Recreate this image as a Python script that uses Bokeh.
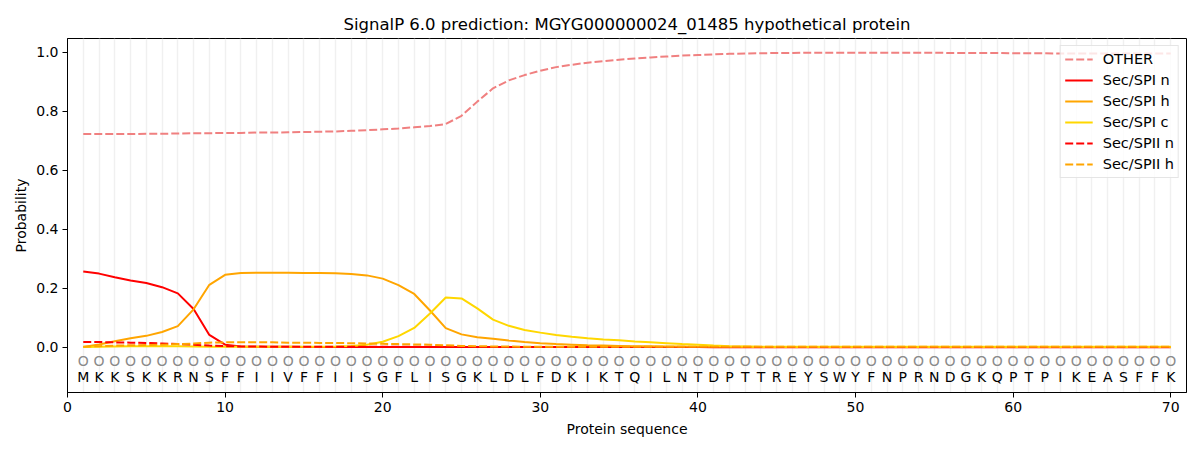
from bokeh.plotting import figure
from bokeh.models import Grid, FixedTicker, Legend, LegendItem, ColumnDataSource, NumeralTickFormatter, Range1d
from bokeh.core.properties import value
from bokeh.embed import file_html
from bokeh.resources import INLINE

sequence = list("MKKSKKRNSFFIIVFFIISGFLISGKLDLFDKIKTQILNTDPTTREYSWYFNPRNDGKQPTPIKEASFFK")
positions = list(range(1, len(sequence) + 1))

other = [0.723, 0.723, 0.723, 0.723, 0.724, 0.724, 0.725, 0.726, 0.726, 0.727,
         0.727, 0.728, 0.728, 0.729, 0.730, 0.731, 0.732, 0.734, 0.736, 0.739,
         0.742, 0.746, 0.750, 0.757, 0.785, 0.833, 0.878, 0.905, 0.923, 0.938,
         0.950, 0.958, 0.965, 0.970, 0.975, 0.979, 0.983, 0.986, 0.989, 0.991,
         0.993, 0.995, 0.996, 0.997, 0.998, 0.998, 0.999, 0.999, 0.999, 0.999,
         0.999, 0.999, 0.999, 0.999, 0.999, 0.998, 0.998, 0.998, 0.998, 0.997,
         0.997, 0.997, 0.996, 0.996, 0.996, 0.996, 0.996, 0.996, 0.996, 0.996]

sec_spi_n = [0.257, 0.250, 0.238, 0.227, 0.218, 0.204, 0.183, 0.130, 0.042, 0.009,
             0.003, 0.002, 0.002, 0.002, 0.001, 0.001, 0.001, 0.001, 0.001, 0.001,
             0.001, 0.001, 0.001, 0.001, 0.001, 0.001, 0.001, 0.001, 0.001, 0.001,
             0.001, 0.001, 0.001, 0.001, 0.001, 0.001, 0.001, 0.001, 0.001, 0.001,
             0.000, 0.000, 0.000, 0.000, 0.000, 0.000, 0.000, 0.000, 0.000, 0.000,
             0.000, 0.000, 0.000, 0.000, 0.000, 0.000, 0.000, 0.000, 0.000, 0.000,
             0.000, 0.000, 0.000, 0.000, 0.000, 0.000, 0.000, 0.000, 0.000, 0.000]

sec_spi_h = [0.001, 0.010, 0.021, 0.031, 0.039, 0.052, 0.072, 0.129, 0.212, 0.246,
             0.252, 0.253, 0.253, 0.253, 0.252, 0.252, 0.251, 0.249, 0.244, 0.233,
             0.211, 0.181, 0.125, 0.065, 0.044, 0.034, 0.029, 0.023, 0.018, 0.014,
             0.011, 0.009, 0.007, 0.006, 0.005, 0.004, 0.004, 0.003, 0.003, 0.002,
             0.002, 0.002, 0.002, 0.001, 0.001, 0.001, 0.001, 0.001, 0.001, 0.001,
             0.001, 0.001, 0.001, 0.001, 0.001, 0.001, 0.001, 0.001, 0.001, 0.001,
             0.001, 0.001, 0.001, 0.001, 0.001, 0.001, 0.001, 0.001, 0.001, 0.001]

sec_spi_c = [0.001, 0.002, 0.003, 0.004, 0.004, 0.004, 0.004, 0.003, 0.002, 0.002,
             0.002, 0.002, 0.002, 0.002, 0.002, 0.002, 0.003, 0.005, 0.009, 0.019,
             0.038, 0.066, 0.115, 0.169, 0.166, 0.132, 0.094, 0.073, 0.059, 0.050,
             0.042, 0.036, 0.031, 0.027, 0.024, 0.020, 0.017, 0.014, 0.011, 0.009,
             0.006, 0.004, 0.003, 0.002, 0.002, 0.002, 0.002, 0.002, 0.002, 0.002,
             0.002, 0.002, 0.002, 0.002, 0.002, 0.002, 0.002, 0.002, 0.002, 0.002,
             0.002, 0.002, 0.002, 0.002, 0.002, 0.002, 0.002, 0.002, 0.002, 0.002]

sec_spii_n = [0.018, 0.018, 0.017, 0.016, 0.015, 0.013, 0.011, 0.009, 0.006, 0.004,
              0.003, 0.003, 0.002, 0.002, 0.002, 0.002, 0.002, 0.002, 0.002, 0.002,
              0.002, 0.002, 0.002, 0.002, 0.002, 0.001, 0.001, 0.001, 0.001, 0.001,
              0.001, 0.001, 0.001, 0.001, 0.001, 0.001, 0.001, 0.001, 0.001, 0.001,
              0.001, 0.001, 0.001, 0.001, 0.001, 0.001, 0.001, 0.001, 0.001, 0.001,
              0.001, 0.001, 0.001, 0.001, 0.001, 0.001, 0.001, 0.001, 0.001, 0.001,
              0.001, 0.001, 0.001, 0.001, 0.001, 0.001, 0.001, 0.001, 0.001, 0.001]

sec_spii_h = [0.002, 0.004, 0.006, 0.007, 0.008, 0.009, 0.011, 0.013, 0.016, 0.017,
              0.017, 0.017, 0.017, 0.016, 0.016, 0.015, 0.015, 0.014, 0.013, 0.012,
              0.011, 0.010, 0.009, 0.007, 0.005, 0.004, 0.003, 0.003, 0.002, 0.002,
              0.002, 0.002, 0.002, 0.002, 0.002, 0.002, 0.002, 0.002, 0.002, 0.002,
              0.002, 0.002, 0.002, 0.002, 0.002, 0.002, 0.002, 0.002, 0.002, 0.002,
              0.002, 0.002, 0.002, 0.002, 0.002, 0.002, 0.002, 0.002, 0.002, 0.002,
              0.002, 0.002, 0.002, 0.002, 0.002, 0.002, 0.002, 0.002, 0.002, 0.002]

series = [
    ("OTHER", other, "#F08080", "dashed"),
    ("Sec/SPI n", sec_spi_n, "#FF0000", "solid"),
    ("Sec/SPI h", sec_spi_h, "#FFA500", "solid"),
    ("Sec/SPI c", sec_spi_c, "#FFD700", "solid"),
    ("Sec/SPII n", sec_spii_n, "#FF0000", "dashed"),
    ("Sec/SPII h", sec_spii_h, "#FFA500", "dashed"),
]

x_ticks = [0, 10, 20, 30, 40, 50, 60, 70]
y_ticks = [0.0, 0.2, 0.4, 0.6, 0.8, 1.0]

FONT = "DejaVu Sans"

p = figure(width=1192, height=442, output_backend="svg", toolbar_location=None,
           x_range=Range1d(0, 71), y_range=Range1d(-0.153, 1.047),
           min_border_left=67, min_border_right=6, min_border_top=38, min_border_bottom=50,
           title="SignalP 6.0 prediction: MGYG000000024_01485 hypothetical protein")

p.title.align = "center"
p.title.text_font = FONT
p.title.text_font_size = "16.5px"
p.title.text_font_style = "normal"
p.title.text_color = "black"

p.xgrid.visible = False
p.ygrid.visible = False
p.add_layout(Grid(dimension=0, ticker=FixedTicker(ticks=positions),
                  grid_line_color="#f0f0f0", grid_line_width=1.5))

p.outline_line_color = "black"
p.outline_line_width = 1
p.background_fill_color = "white"
p.border_fill_color = "white"

for ax in (p.xaxis[0], p.yaxis[0]):
    ax.axis_line_color = "black"
    ax.major_tick_line_color = "black"
    ax.minor_tick_line_color = None
    ax.major_tick_out = 5
    ax.major_tick_in = 0
    ax.major_label_text_font = FONT
    ax.major_label_text_font_size = "14px"
    ax.major_label_text_color = "black"
    ax.axis_label_text_font = FONT
    ax.axis_label_text_font_size = "14px"
    ax.axis_label_text_font_style = "normal"
    ax.axis_label_text_color = "black"

p.xaxis[0].ticker = FixedTicker(ticks=x_ticks)
p.yaxis[0].ticker = FixedTicker(ticks=y_ticks)
p.yaxis[0].formatter = NumeralTickFormatter(format="0.0")
p.xaxis[0].axis_label = "Protein sequence"
p.yaxis[0].axis_label = "Probability"
p.xaxis[0].axis_label_standoff = 6
p.yaxis[0].axis_label_standoff = 4
p.xaxis[0].major_label_standoff = 4
p.yaxis[0].major_label_standoff = 4

items = []
for name, vals, color, dash in series:
    src = ColumnDataSource(dict(x=positions, y=vals))
    r = p.line("x", "y", source=src, line_color=color, line_width=2,
               line_dash=("8 3" if dash == "dashed" else "solid"))
    items.append(LegendItem(label=name, renderers=[r]))

letter_src = ColumnDataSource(dict(x=positions, y=[-0.102] * len(positions), t=sequence))
p.text("x", "y", text="t", source=letter_src, text_align="center", text_baseline="middle",
       text_font=value(FONT), text_font_size="14px", text_color="black")
circ_src = ColumnDataSource(dict(x=positions, y=[-0.045] * len(positions), t=["O"] * len(positions)))
p.text("x", "y", text="t", source=circ_src, text_align="center", text_baseline="middle",
       text_font=value(FONT), text_font_size="14px", text_color="#8a8a8a")

legend = Legend(items=items, location="top_right")
legend.label_text_font = FONT
legend.label_text_font_size = "14.5px"
legend.label_text_color = "black"
legend.glyph_width = 28
legend.glyph_height = 18
legend.label_height = 18
legend.label_standoff = 10
legend.spacing = 3
legend.padding = 4
legend.margin = 7
legend.border_line_color = "#cccccc"
legend.border_line_width = 1
legend.background_fill_alpha = 0.8
p.add_layout(legend)

open("out.html", "w").write(file_html(p, INLINE))
